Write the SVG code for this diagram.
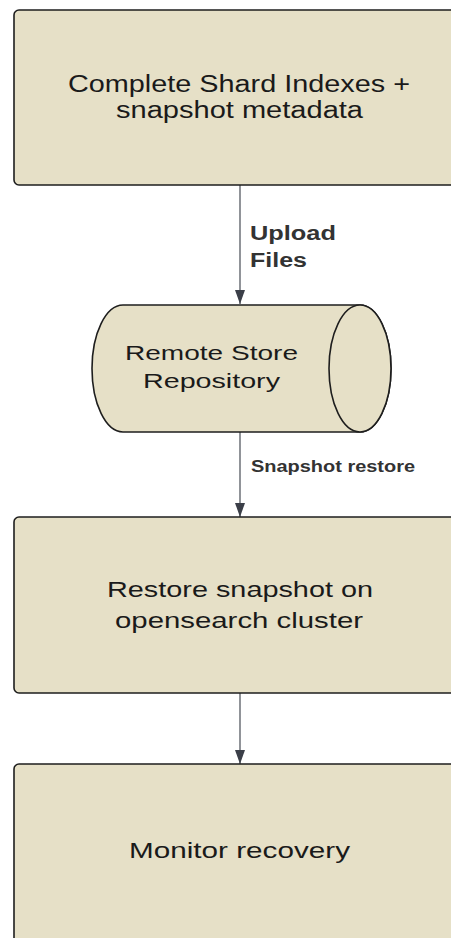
<svg xmlns="http://www.w3.org/2000/svg" width="451" height="938" viewBox="0 0 451 938">
<style>
.node{fill:#E6E0C7;stroke:#1e1e1e;stroke-width:1.6}
.t{font-family:"Liberation Sans",Arial,sans-serif;fill:#1a1a1a}
.lbl{font-family:"Liberation Sans",Arial,sans-serif;font-weight:bold;fill:#333333}
.edge{stroke:#555a62;stroke-width:1.3;fill:none;marker-end:url(#arr)}
</style>
<defs>
<marker id="arr" markerWidth="14" markerHeight="10" refX="14" refY="5" orient="auto" markerUnits="userSpaceOnUse" viewBox="0 0 14 10">
<path d="M0,0 L14,5 L0,10 Z" fill="#3b3f48"/>
</marker>
</defs>
<rect width="451" height="938" fill="#ffffff"/>
<g id="connectors">
<line class="edge" x1="240" y1="185" x2="240" y2="304"/>
<line class="edge" x1="240" y1="432" x2="240" y2="517"/>
<line class="edge" x1="240" y1="693" x2="240" y2="764"/>
<text class="lbl" x="250" y="240" font-size="19.5" textLength="86" lengthAdjust="spacingAndGlyphs">Upload</text>
<text class="lbl" x="250" y="267" font-size="19.5" textLength="57" lengthAdjust="spacingAndGlyphs">Files</text>
<text class="lbl" x="251" y="472" font-size="16.5" textLength="164" lengthAdjust="spacingAndGlyphs">Snapshot restore</text>
</g>
<g id="node-shard-indexes">
<rect class="node" x="14" y="10" width="460" height="175" rx="5"/>
<text class="t" x="68" y="92" font-size="23.5" textLength="342" lengthAdjust="spacingAndGlyphs">Complete Shard Indexes +</text>
<text class="t" x="116" y="118" font-size="23.5" textLength="247" lengthAdjust="spacingAndGlyphs">snapshot metadata</text>
</g>
<g id="node-remote-store">
<path class="node" d="M123,305 L360,305 A31,63.5 0 0 1 360,432 L123,432 A31,63.5 0 0 1 123,305 Z"/>
<ellipse class="node" cx="360" cy="368.5" rx="31" ry="63.5"/>
<text class="t" x="125" y="360" font-size="20.5" textLength="173" lengthAdjust="spacingAndGlyphs">Remote Store</text>
<text class="t" x="143" y="388" font-size="20.5" textLength="137" lengthAdjust="spacingAndGlyphs">Repository</text>
</g>
<g id="node-restore">
<rect class="node" x="14" y="517" width="460" height="176" rx="5"/>
<text class="t" x="107" y="597" font-size="21.5" textLength="266" lengthAdjust="spacingAndGlyphs">Restore snapshot on</text>
<text class="t" x="115" y="628" font-size="21.5" textLength="248" lengthAdjust="spacingAndGlyphs">opensearch cluster</text>
</g>
<g id="node-monitor">
<rect class="node" x="14" y="764" width="460" height="190" rx="5"/>
<text class="t" x="129" y="858" font-size="21.5" textLength="221" lengthAdjust="spacingAndGlyphs">Monitor recovery</text>
</g>
</svg>
